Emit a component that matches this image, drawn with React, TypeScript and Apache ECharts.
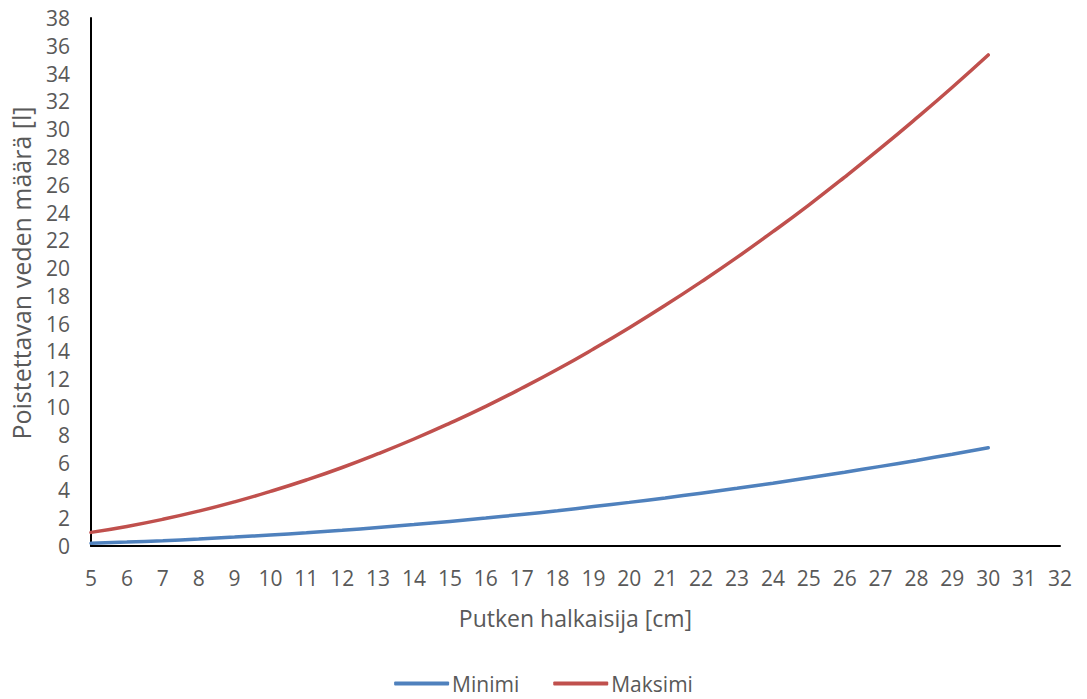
import React, { useEffect, useRef } from "react";
import * as echarts from "echarts";

const diameters = [5, 6, 7, 8, 9, 10, 11, 12, 13, 14, 15, 16, 17, 18, 19, 20, 21, 22, 23, 24, 25, 26, 27, 28, 29, 30];
const minimi = [0.2, 0.28, 0.38, 0.5, 0.64, 0.79, 0.95, 1.13, 1.33, 1.54, 1.77, 2.01, 2.27, 2.54, 2.84, 3.14, 3.46, 3.8, 4.15, 4.52, 4.91, 5.31, 5.73, 6.16, 6.61, 7.07];
const maksimi = [0.98, 1.41, 1.92, 2.51, 3.18, 3.93, 4.75, 5.65, 6.64, 7.7, 8.84, 10.05, 11.35, 12.72, 14.18, 15.71, 17.32, 19.01, 20.77, 22.62, 24.54, 26.55, 28.63, 30.79, 33.02, 35.34];
const seriesNames = ["Minimi", "Maksimi"];
const xTitle = "Putken halkaisija [cm]";
const yTitle = "Poistettavan veden määrä [l]";

const FONT = "'Open Sans', sans-serif";
const TXT = "#595959";

export default function App() {
  const ref = useRef<HTMLDivElement>(null);
  useEffect(() => {
    if (!ref.current) return;
    const chart = echarts.init(ref.current, undefined, { renderer: "svg" });
    chart.setOption({
      animation: false,
      backgroundColor: "#ffffff",
      textStyle: { fontFamily: FONT },
      grid: { left: 91, right: 27, top: 18, bottom: 153, containLabel: false },
      legend: {
        bottom: 0,
        left: "center",
        itemWidth: 55,
        itemHeight: 4,
        itemGap: 34,
        icon: "roundRect",
        textStyle: { fontFamily: FONT, fontSize: 21, color: TXT, padding: [0, 0, 0, -2] },
        data: seriesNames,
      },
      graphic: [
        {
          type: "text",
          x: 21,
          y: 273,
          rotation: Math.PI / 2,
          style: {
            text: yTitle,
            fontFamily: FONT,
            fontSize: 25,
            fill: TXT,
            textAlign: "center",
            textVerticalAlign: "middle",
          },
        },
      ],
      xAxis: {
        type: "value",
        min: 5,
        max: 32,
        interval: 1,
        name: xTitle,
        nameLocation: "middle",
        nameGap: 60,
        nameTextStyle: { fontFamily: FONT, fontSize: 23, color: TXT },
        axisLine: { show: true, lineStyle: { color: "#000000", width: 2 } },
        axisTick: { show: false },
        splitLine: { show: false },
        axisLabel: { fontFamily: FONT, fontSize: 21, color: TXT, margin: 21 },
      },
      yAxis: {
        type: "value",
        min: 0,
        max: 38,
        interval: 2,
        axisLine: { show: true, lineStyle: { color: "#000000", width: 2 } },
        axisTick: { show: false },
        splitLine: { show: false },
        axisLabel: { fontFamily: FONT, fontSize: 21, color: TXT, margin: 21 },
      },
      series: [
        {
          name: seriesNames[0],
          type: "line",
          smooth: true,
          showSymbol: false,
          symbol: "none",
          color: "#4F81BD",
          lineStyle: { width: 3.5, color: "#4F81BD", cap: "round" },
          data: diameters.map((d, i) => [d, minimi[i]]),
        },
        {
          name: seriesNames[1],
          type: "line",
          smooth: true,
          showSymbol: false,
          symbol: "none",
          color: "#C0504D",
          lineStyle: { width: 3.5, color: "#C0504D", cap: "round" },
          data: diameters.map((d, i) => [d, maksimi[i]]),
        },
      ],
    });
    return () => chart.dispose();
  }, []);
  return (
    <div
      ref={ref}
      style={{ position: "fixed", left: 0, top: 0, width: 1087, height: 699 }}
    />
  );
}
